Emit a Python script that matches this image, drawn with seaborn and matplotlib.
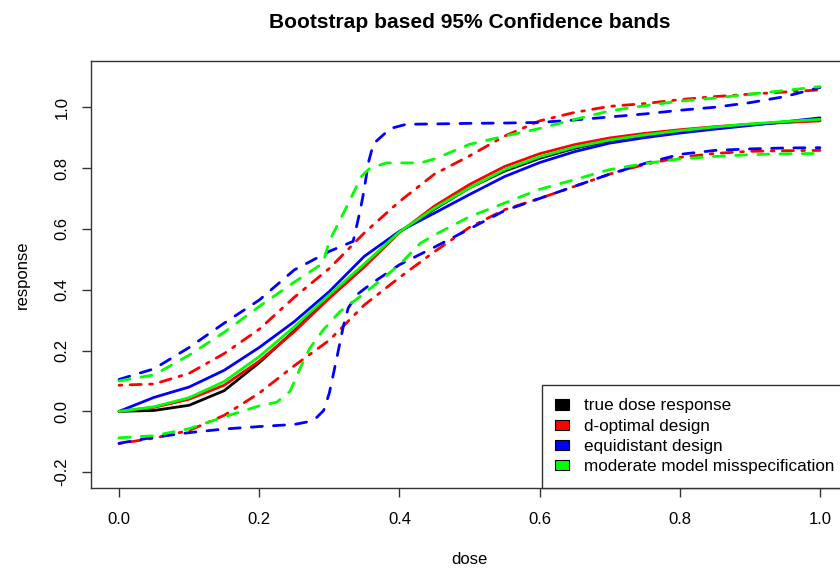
import numpy as np
import pandas as pd
import matplotlib
matplotlib.use('Agg')
import matplotlib.pyplot as plt
import seaborn as sns
from matplotlib.patches import Patch

# Data
dose = [0.0, 0.05, 0.1, 0.15, 0.2, 0.25, 0.3, 0.35, 0.4, 0.45, 0.5,
        0.55, 0.6, 0.65, 0.7, 0.75, 0.8, 0.85, 0.9, 0.95, 1.0]

true_resp = [0.0, 0.003, 0.02, 0.068, 0.16, 0.265, 0.378, 0.48, 0.59, 0.665, 0.735,
             0.79, 0.832, 0.865, 0.89, 0.908, 0.922, 0.933, 0.943, 0.951, 0.958]

dopt_fit = [0.0, 0.013, 0.04, 0.086, 0.165, 0.262, 0.372, 0.475, 0.588, 0.675, 0.746,
            0.805, 0.847, 0.877, 0.899, 0.914, 0.926, 0.936, 0.944, 0.950, 0.955]
dopt_upper = [0.086, 0.09, 0.125, 0.19, 0.27, 0.375, 0.47, 0.587, 0.69, 0.78, 0.84,
              0.905, 0.955, 0.983, 1.003, 1.012, 1.025, 1.035, 1.043, 1.05, 1.057]
dopt_lower = [-0.106, -0.088, -0.063, -0.013, 0.06, 0.15, 0.234, 0.35, 0.44, 0.525, 0.605,
              0.663, 0.70, 0.74, 0.78, 0.812, 0.835, 0.848, 0.855, 0.857, 0.858]

equi_fit = [0.0, 0.046, 0.08, 0.135, 0.21, 0.295, 0.394, 0.51, 0.592, 0.652, 0.713,
            0.772, 0.818, 0.854, 0.882, 0.900, 0.915, 0.928, 0.940, 0.952, 0.965]

equi_up_dose = [0.0, 0.05, 0.1, 0.15, 0.2, 0.25, 0.3, 0.334, 0.344, 0.349, 0.356,
                0.363, 0.387, 0.41, 0.45, 0.5, 0.55, 0.6, 0.65, 0.7, 0.75, 0.8,
                0.85, 0.9, 0.95, 1.0]
equi_upper = [0.105, 0.14, 0.21, 0.29, 0.366, 0.465, 0.526, 0.559, 0.66, 0.72, 0.82,
              0.88, 0.93, 0.944, 0.945, 0.947, 0.948, 0.95, 0.958, 0.968, 0.978, 0.99,
              1.0, 1.015, 1.035, 1.065]

equi_lo_dose = [0.0, 0.05, 0.1, 0.15, 0.2, 0.25, 0.268, 0.282, 0.292, 0.30, 0.31,
                0.32, 0.327, 0.34, 0.36, 0.4, 0.45, 0.5, 0.55, 0.6, 0.65, 0.7,
                0.75, 0.8, 0.85, 0.9, 0.95, 1.0]
equi_lower = [-0.105, -0.085, -0.07, -0.058, -0.05, -0.043, -0.035, -0.02, 0.003, 0.06, 0.168,
              0.28, 0.34, 0.385, 0.42, 0.482, 0.54, 0.6, 0.66, 0.70, 0.74, 0.78,
              0.815, 0.845, 0.858, 0.863, 0.866, 0.867]

mis_fit = [0.0, 0.015, 0.045, 0.098, 0.18, 0.278, 0.383, 0.485, 0.59, 0.668, 0.735,
           0.795, 0.837, 0.869, 0.892, 0.909, 0.923, 0.935, 0.945, 0.953, 0.960]

mis_up_dose = [0.0, 0.05, 0.1, 0.15, 0.2, 0.25, 0.291, 0.30, 0.325, 0.346, 0.358,
               0.382, 0.43, 0.45, 0.5, 0.55, 0.6, 0.65, 0.7, 0.75, 0.8, 0.85,
               0.9, 0.95, 1.0]
mis_upper = [0.10, 0.12, 0.185, 0.26, 0.345, 0.425, 0.487, 0.56, 0.674, 0.773, 0.80,
             0.817, 0.817, 0.83, 0.878, 0.905, 0.93, 0.96, 0.988, 1.005, 1.02, 1.03,
             1.043, 1.055, 1.068]

mis_lo_dose = [0.0, 0.05, 0.1, 0.15, 0.2, 0.225, 0.244, 0.258, 0.272, 0.291, 0.315,
               0.35, 0.4, 0.43, 0.45, 0.5, 0.55, 0.6, 0.65, 0.7, 0.75, 0.8,
               0.85, 0.9, 0.95, 1.0]
mis_lower = [-0.087, -0.08, -0.057, -0.018, 0.018, 0.03, 0.066, 0.14, 0.207, 0.267, 0.328,
             0.388, 0.482, 0.553, 0.58, 0.64, 0.685, 0.73, 0.762, 0.795, 0.815, 0.83,
             0.838, 0.844, 0.847, 0.848]

legend_labels = ['true dose response', 'd-optimal design', 'equidistant design',
                 'moderate model misspecification']
legend_colors = ['black', '#FF0000', '#0000FF', '#00FF00']

# Style
sns.set_theme(style='white')
plt.rcParams['font.family'] = ['Liberation Sans', 'DejaVu Sans']
plt.rcParams['axes.unicode_minus'] = False
plt.rcParams['text.color'] = 'black'
plt.rcParams['axes.labelcolor'] = 'black'

fig = plt.figure(figsize=(8.4, 5.7), dpi=100)
ax = fig.add_axes([91 / 840, 82 / 570, 757 / 840, 427 / 570])

solid = (None, None)
dashed = (4, 4)
dashdot = (1, 3, 4, 3)

curves = [
    (dose, true_resp, 'black', solid),
    (dose, dopt_fit, '#FF0000', solid),
    (dose, dopt_upper, '#FF0000', dashdot),
    (dose, dopt_lower, '#FF0000', dashdot),
    (dose, equi_fit, '#0000FF', solid),
    (equi_up_dose, equi_upper, '#0000FF', dashed),
    (equi_lo_dose, equi_lower, '#0000FF', dashed),
    (dose, mis_fit, '#00FF00', solid),
    (mis_up_dose, mis_upper, '#00FF00', dashed),
    (mis_lo_dose, mis_lower, '#00FF00', dashed),
]

for xs, ys, col, dash in curves:
    df = pd.DataFrame({'dose': xs, 'response': ys})
    sns.lineplot(data=df, x='dose', y='response', color=col, linewidth=2.0,
                 estimator=None, sort=False, ax=ax)
    ln = ax.lines[-1]
    ln.set_solid_capstyle('round')
    ln.set_dash_capstyle('round')
    if dash[0] is not None:
        ln.set_dashes(dash)

ax.set_xlim(-0.04, 1.04)
ax.set_ylim(-0.252, 1.152)
ax.set_xticks(np.arange(0, 1.01, 0.2))
ax.set_yticks(np.arange(-0.2, 1.01, 0.2))
ax.set_xticklabels(['%.1f' % v for v in np.arange(0, 1.01, 0.2)])
ax.set_yticklabels(['%.1f' % v for v in np.arange(-0.2, 1.01, 0.2)], rotation=90, va='center')

for s in ax.spines.values():
    s.set_color('#333333')
    s.set_linewidth(1.0)
ax.tick_params(axis='both', which='major', direction='out', length=6.5, width=1.0,
               color='#333333', labelsize=12, labelcolor='black',
               bottom=True, left=True)
ax.tick_params(axis='x', pad=11)
ax.tick_params(axis='y', pad=9)

ax.set_xlabel('dose', fontsize=12, labelpad=18)
ax.set_ylabel('response', fontsize=12, labelpad=18)
ax.set_title('Bootstrap based 95% Confidence bands', fontsize=15.1,
             fontweight='bold', pad=24, color='black')

handles = [Patch(facecolor=c, edgecolor='black', linewidth=0.8) for c in legend_colors]
leg = ax.legend(handles, legend_labels, loc='lower right', fontsize=12.3,
                frameon=True, fancybox=False, borderaxespad=0, borderpad=0.8,
                handlelength=0.78, handleheight=0.55, handletextpad=0.9,
                labelspacing=0.31, edgecolor='#333333', framealpha=1)
leg.get_frame().set_linewidth(1.0)

fig.savefig('out.png', dpi=100)
